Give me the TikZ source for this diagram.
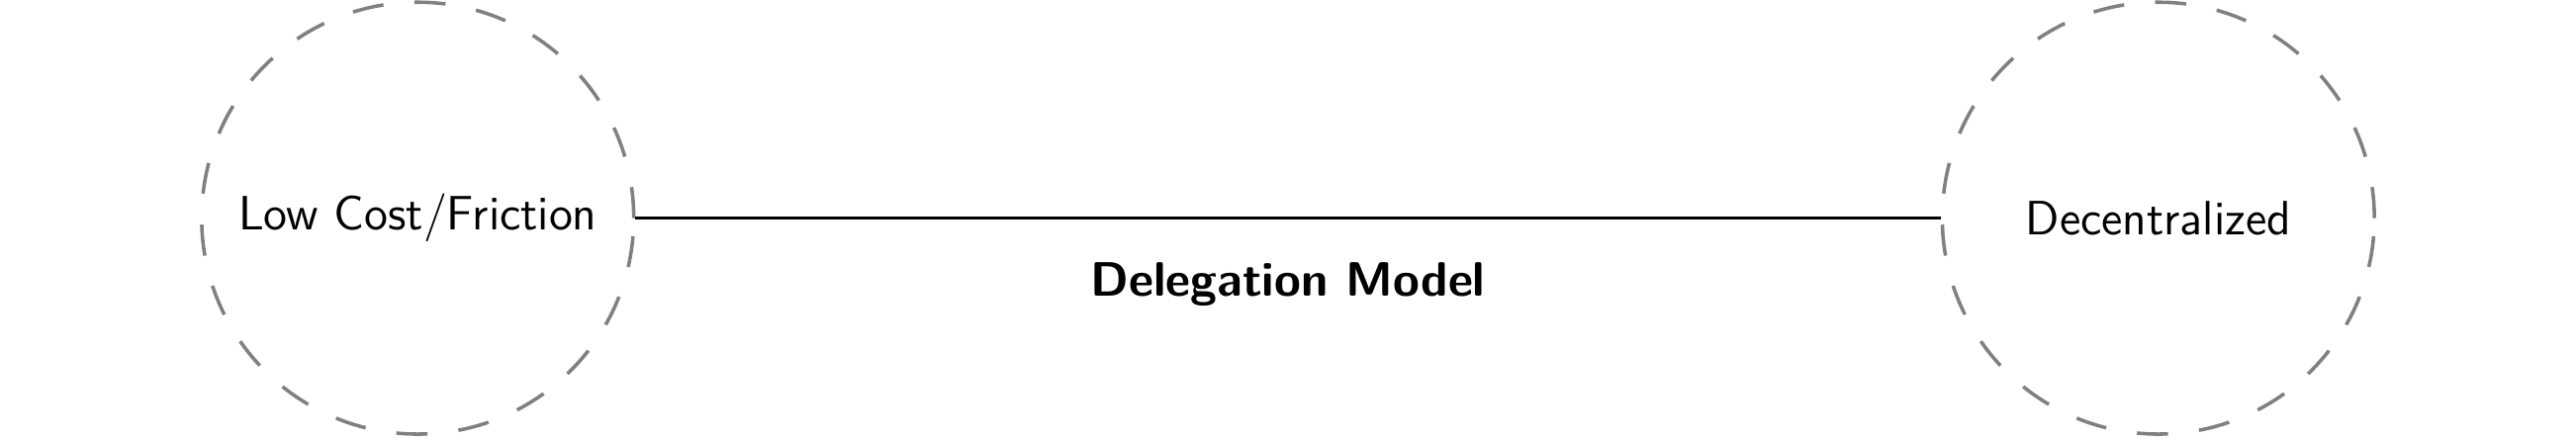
\documentclass[tikz,border=0pt]{standalone}
\usepackage{tikz}
\usetikzlibrary{positioning}

\begin{document}
\begin{tikzpicture}[
  pole/.style={circle, draw=gray, line width=0.9pt, dash pattern=on 8pt off 8pt,
               minimum size=3.9cm, inner sep=0pt, font=\fontsize{12.4}{15}\sffamily, align=center},
  axis/.style={draw=black, line width=0.7pt},
  axislabel/.style={font=\fontsize{12.4}{15}\sffamily\bfseries}
]
\useasboundingbox (-3.77,-1.99) rectangle (19.48,1.97);
\node[pole] (low)  at (0,     0) {Low Cost/Friction};
\node[pole] (dec)  at (15.71, 0) {Decentralized};
\draw[axis] (low.east) -- node[below=0.27cm, axislabel] {Delegation Model} (dec.west);
\end{tikzpicture}
\end{document}
